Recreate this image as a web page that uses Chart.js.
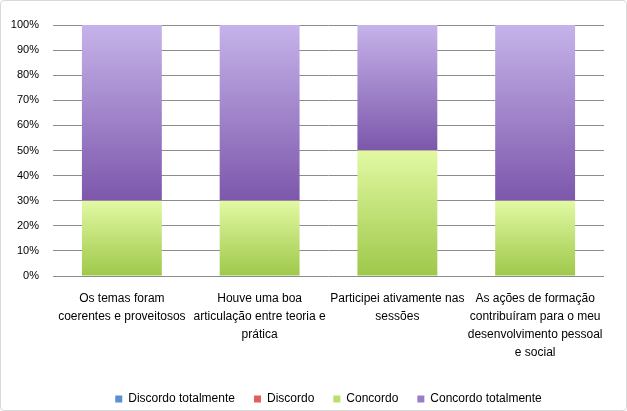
<!DOCTYPE html>
<html>
<head>
<meta charset="utf-8">
<script src="https://cdn.jsdelivr.net/npm/chart.js@4"></script>
<style>
  html, body { margin: 0; padding: 0; background: #fff; }
  #wrap { position: relative; width: 625px; height: 409px; border: 1px solid #d9d9d9; border-radius: 4px; }
</style>
</head>
<body>
<div id="wrap"><canvas id="chart"></canvas></div>
<script>
const categories = [
  ["Os temas foram", "coerentes e proveitosos"],
  ["Houve uma boa", "articulação entre teoria e", "prática"],
  ["Participei ativamente nas", "sessões"],
  ["As ações de formação", "contribuíram para o meu", "desenvolvimento pessoal", "e social"]
];
const discordoTotalmente = [0, 0, 0, 0];
const discordo = [0, 0, 0, 0];
const concordo = [30, 30, 50, 30];
const concordoTotalmente = [70, 70, 50, 70];
const seriesNames = ["Discordo totalmente", "Discordo", "Concordo", "Concordo totalmente"];
const yTicks = [0, 10, 20, 30, 40, 50, 60, 70, 80, 90, 100];

const allSeries = [discordoTotalmente, discordo, concordo, concordoTotalmente];

// top / bottom colours of the vertical gradients
const gradColors = [
  ["#8fb4e3", "#4a7ebb"],
  ["#e88a88", "#c0504d"],
  ["#e2f9a3", "#9ec84a"],
  ["#c6b3ea", "#7c57ab"]
];
const legendColors = ["#5b8fd0", "#e0605c", "#b9e06c", "#9a7ccd"];
const font = "Liberation Sans, Arial, sans-serif";

function gradFill(dsIndex) {
  return function (context) {
    const chart = context.chart;
    const y = chart.scales.y;
    const i = context.dataIndex;
    if (!y || i === undefined) return legendColors[dsIndex];
    let start = 0;
    for (let k = 0; k < dsIndex; k++) start += allSeries[k][i];
    const end = start + allSeries[dsIndex][i];
    const top = y.getPixelForValue(end);
    const bottom = y.getPixelForValue(start);
    if (!isFinite(top) || !isFinite(bottom) || top === bottom) return legendColors[dsIndex];
    const g = chart.ctx.createLinearGradient(0, top, 0, bottom);
    g.addColorStop(0, gradColors[dsIndex][0]);
    g.addColorStop(1, gradColors[dsIndex][1]);
    return g;
  };
}

const datasets = allSeries.map((values, idx) => ({
  label: seriesNames[idx],
  data: values,
  backgroundColor: gradFill(idx),
  borderWidth: 0,
  barPercentage: 0.58,
  categoryPercentage: 1.0
}));

new Chart(document.getElementById("chart"), {
  type: "bar",
  data: { labels: categories, datasets: datasets },
  options: {
    responsive: true,
    maintainAspectRatio: false,
    animation: false,
    layout: { padding: { left: 10, right: 22, top: 24, bottom: -5 } },
    plugins: {
      tooltip: { enabled: false },
      legend: {
        position: "bottom",
        fullSize: false,
        labels: {
          color: "#000",
          font: { family: font, size: 12 },
          boxWidth: 7,
          boxHeight: 7,
          padding: 19,
          generateLabels: chart => seriesNames.map((name, i) => ({
            text: name,
            fillStyle: legendColors[i],
            strokeStyle: legendColors[i],
            lineWidth: 0,
            datasetIndex: i,
            hidden: false
          }))
        }
      }
    },
    scales: {
      x: {
        stacked: true,
        grid: { display: false },
        border: { display: false },
        afterFit: s => { s.paddingLeft = 0; s.paddingRight = 0; s.height += 6; },
        ticks: {
          color: "#000",
          font: { family: font, size: 12, lineHeight: 1.5 },
          maxRotation: 0,
          autoSkip: false,
          padding: 6
        }
      },
      y: {
        stacked: true,
        min: 0,
        max: 100,
        afterBuildTicks: axis => { axis.ticks = yTicks.map(v => ({ value: v })); },
        afterFit: s => { s.paddingTop = 0; s.paddingBottom = 0; s.width = 42; },
        grid: { color: "#8c8c8c", drawTicks: false },
        border: { display: false },
        ticks: {
          color: "#000",
          font: { family: font, size: 11 },
          padding: 14,
          callback: v => v + "%"
        }
      }
    }
  }
});
</script>
</body>
</html>
